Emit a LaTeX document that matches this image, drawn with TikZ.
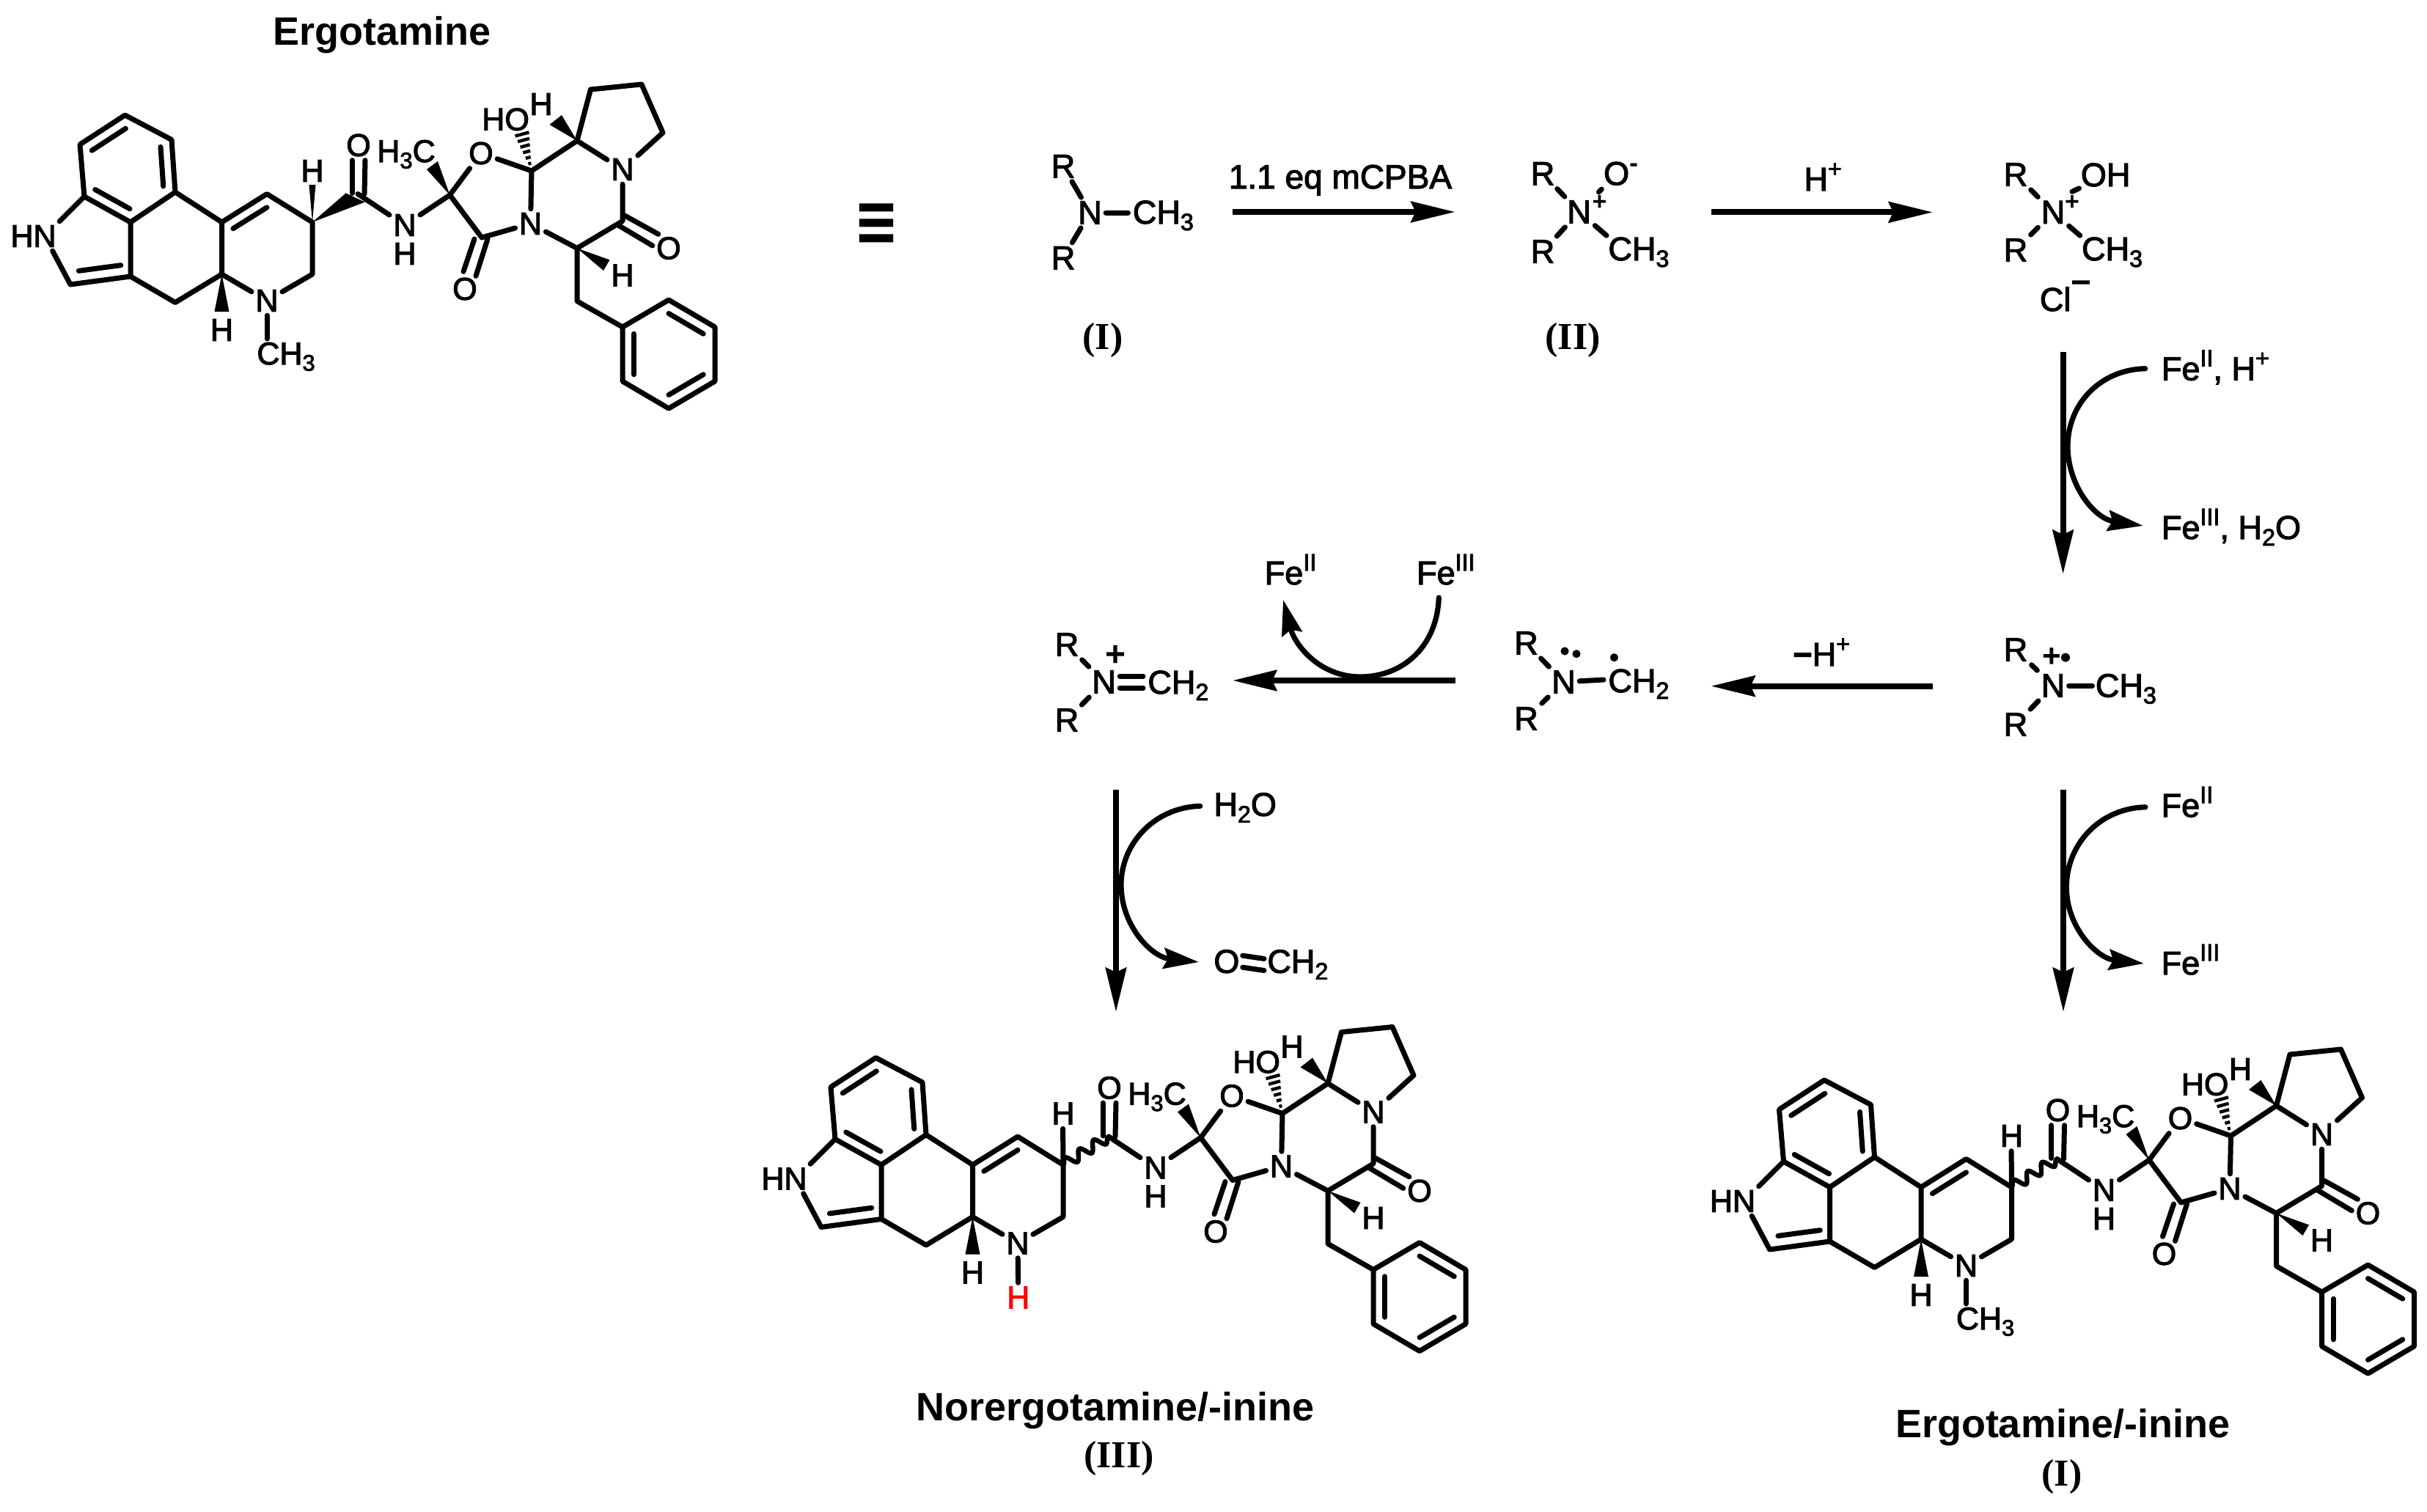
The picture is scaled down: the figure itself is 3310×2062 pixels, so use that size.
\documentclass[tikz,border=0pt]{standalone}
\usepackage{fontspec}
\usetikzlibrary{calc,arrows.meta,decorations.pathmorphing}
\setmainfont{Liberation Sans}
\newfontfamily\molf{Liberation Sans}[FakeBold=2.5]
\newfontfamily\timesf{Liberation Serif}
\newfontfamily\dejaf{DejaVu Sans}[BoldFont={DejaVu Sans Bold}]
\newcommand{\dn}[1]{\raisebox{-.2em}{\scalebox{.72}{#1}}}
\newcommand{\up}[1]{\raisebox{.42em}{\scalebox{.72}{#1}}}
\tikzset{
  x=.5pt,y=-.5pt,
  bond/.style={line width=3.5pt,line cap=round,line join=round},
  lab/.style={font=\fontsize{21.5}{25}\selectfont\molf,inner sep=2.5pt,text=black},
  labs/.style={font=\fontsize{22.5}{26}\selectfont\molf,inner sep=2.5pt,text=black},
  sign/.style={inner sep=0pt,text=black},
  capt/.style={font=\fontsize{27}{32}\selectfont\bfseries,inner sep=0pt,anchor=base},
  numb/.style={font=\fontsize{26}{30}\selectfont\timesf\bfseries,inner sep=0pt,anchor=base},
  rxn/.style={line width=4pt,-{Stealth[length=30pt,width=14pt,inset=3pt]}},
  curv/.style={line width=3.6pt,line cap=round,-{Stealth[length=24pt,width=14pt,inset=3pt]}},
}
% inner line of a ring double bond
\newcommand{\inb}[4]{\draw[bond] ($(#1)!#4!(#3)$) -- ($(#2)!#4!(#3)$);}
% molecule: name, dx, dy, C8 stereo bonds, N substituent
\newcommand{\ergot}[5]{%
\begin{scope}[shift={(#2,#3)},name prefix=#1-]
  \coordinate (a1) at (170.5,157);
  \coordinate (a2) at (109,197);
  \coordinate (a3) at (115,268);
  \coordinate (a4) at (178,303);
  \coordinate (a5) at (239,262);
  \coordinate (a6) at (234,190.5);
  \coordinate (a7) at (96,388);
  \coordinate (a8) at (178,377);
  \coordinate (a9) at (239,412.5);
  \coordinate (a10) at (302.5,374);
  \coordinate (a11) at (302.5,303);
  \coordinate (a12) at (364,264.5);
  \coordinate (a13) at (426,303);
  \coordinate (a14) at (426,374);
  \coordinate (a15) at (488,264.5);
  \coordinate (a16) at (613.5,266);
  \coordinate (a17) at (657,324);
  \coordinate (a18) at (725,233);
  \coordinate (a19) at (787,192);
  \coordinate (a20) at (849,301.5);
  \coordinate (a21) at (787,338.5);
  \coordinate (a22) at (787,410.7);
  \coordinate (p1) at (849,446);
  \coordinate (p2) at (912,409);
  \coordinate (p3) at (975,446);
  \coordinate (p4) at (975,520);
  \coordinate (p5) at (912,557);
  \coordinate (p6) at (849,520);
  \coordinate (q1) at (805.5,122);
  \coordinate (q2) at (875,115);
  \coordinate (q3) at (904,181);
  \coordinate (cA) at (174,230);
  \coordinate (cB) at (364,338);
  \coordinate (cC) at (134,326);
  \coordinate (cP) at (912,483);
  \node[lab] (hH) at (30,322) {H};
  \node[lab] (nI) at (61,322) {N};
  \node[lab] (nA) at (364,410) {N};
  \node[lab] (hA) at (302.5,450) {H};
  \node[lab] (hB) at (426,233) {H};
  \node[lab] (oA) at (489,198) {O};
  \node[lab] (nB) at (552,307) {N};
  \node[lab] (hC) at (552,346) {H};
  \node[lab,anchor=base west,inner sep=0pt] (me) at (514,221) {H\dn{3}C};
  \node[lab] (oR) at (656,209) {O};
  \node[lab,anchor=base west,inner sep=0pt] (oh) at (657,177.6) {HO};
  \node[lab] (hD) at (738,142) {H};
  \node[lab] (nC) at (723.5,305) {N};
  \node[lab] (nD) at (849,231) {N};
  \node[lab] (oB) at (634,394) {O};
  \node[lab] (oC) at (912,338.5) {O};
  \node[lab] (hE) at (849,375.5) {H};
  % tricycle
  \draw[bond] (a4) -- (a3) -- (a2) -- (a1) -- (a6) -- (a5) -- (a4) -- (a8) -- (a9) -- (a10) -- (a11) -- (a5);
  \draw[bond] (a8) -- (a7) -- (nI);
  \draw[bond] (nI) -- (a3);
  \inb{a1}{a2}{cA}{.25}
  \inb{a6}{a5}{cA}{.25}
  \inb{a3}{a4}{cA}{.25}
  \inb{a7}{a8}{cC}{.3}
  \draw[bond] (a11) -- (a12) -- (a13) -- (a14) -- (nA) -- (a10);
  \inb{a11}{a12}{cB}{.25}
  \fill (a10) -- (292.5,425) -- (312.5,425) -- cycle;
  #4
  #5
  % carbonyl, amide
  \draw[bond] ($(a15)+(-8,-1)$) -- ($(oA.south)+(-9,0)$);
  \draw[bond] ($(a15)+(9,0)$) -- ($(oA.south)+(9,0)$);
  \draw[bond] (a15) -- (nB) -- (a16);
  % oxazolidine
  \draw[bond] (a16) -- (oR) -- (a18);
  \draw[bond] (a16) -- (a17) -- (nC) -- (a18);
  \fill (a16) -- (582,231) -- (597,220) -- cycle;
  \foreach \t in {.2,.36,.52,.68,.84,1} \draw[line width=2.2pt] ($(a18)!\t!(702.5,185.6)$) -- ($(a18)!\t!(721.5,180.4)$);
  \draw[bond] ($(a17)+(-10,2)$) -- ($(oB.north)+(-2,-3)$);
  \draw[bond] ($(a17)+(8,2)$) -- ($(oB.north)+(15,3)$);
  % pyrrolidine and piperazine
  \draw[bond] (a18) -- (a19) -- (nD) -- (a20) -- (a21) -- (nC);
  \draw[bond] (a19) -- (q1) -- (q2) -- (q3) -- (nD);
  \fill (a19) -- (749.5,170) -- (766,157) -- cycle;
  \draw[bond] ($(a20)+(3,-7.5)$) -- ($(oC.north west)+(8,1.5)$);
  \draw[bond] ($(a20)+(-6,5.5)$) -- ($(oC.west)+(0,-3.5)$);
  \fill (a21) -- (831.5,354.4) -- (823,369) -- cycle;
  % benzyl
  \draw[bond] (a21) -- (a22) -- (p1);
  \draw[bond] (p1) -- (p2) -- (p3) -- (p4) -- (p5) -- (p6) -- cycle;
  \inb{p2}{p3}{cP}{.25}
  \inb{p1}{p6}{cP}{.25}
  \inb{p5}{p4}{cP}{.25}
\end{scope}}
\newcommand{\wedged}{%
  \fill (a13) -- (421.5,252) -- (430.5,252) -- cycle;
  \fill (a13) -- (471.7,263.4) -- (497.7,275.6) -- cycle;}
\newcommand{\wavy}{%
  \coordinate (hb) at (425.6,253.8);
  \draw[bond] (a13) -- (hb);
  \draw[line width=3.2pt,decorate,decoration={snake,segment length=11.5pt,amplitude=3.5pt}] (a13) -- (a15);}
\newcommand{\methyl}{%
  \node[lab,anchor=base west,inner sep=0pt] (ch) at (350,497) {CH\dn{3}};
  \coordinate (chb) at (364,462);
  \draw[bond] (nA) -- (chb);}
\newcommand{\hydro}{%
  \node[lab,text=red] (hr) at (364.8,484) {H};
  \draw[bond] (nA) -- (hr);}
\begin{document}
\begin{tikzpicture}
\useasboundingbox (0,0) rectangle (3310,2062);
% captions
\node[capt] (tTop) at (521,61) {Ergotamine};
\node[capt] (tL) at (1520.6,1937) {Norergotamine/-inine};
\node[numb] (nL) at (1526,2001.5) {(III)};
\node[capt] (tR) at (2813,1960) {Ergotamine/-inine};
\node[numb] (nR) at (2812,2026) {(I)};
\node[inner sep=0pt,font=\fontsize{37}{40}\selectfont\dejaf\bfseries] (eq) at (1195.5,306.5) {\scalebox{1}[1.3]{≡}};
% three molecules
\ergot{T}{0}{0}{\wedged}{\methyl}
\ergot{L}{1024}{1285.5}{\wavy}{\hydro}
\ergot{R}{2317.5}{1316}{\wavy}{\methyl}
% I
\node[labs] (r1a) at (1450,226.7) {R};
\node[labs] (n1) at (1486.5,290) {N};
\node[labs] (r1b) at (1450,351.7) {R};
\node[labs,anchor=base west,inner sep=0pt] (c1) at (1544.5,305) {CH\dn{3}};
\draw[bond] (r1a) -- (n1) -- (r1b);
\draw[bond] (n1) -- ($(c1.west |- n1)+(-6,0)$);
\node[numb] (lab1) at (1504,476.7) {(I)};
% reagent arrow 1
\coordinate (s1) at (1681,289);
\coordinate (e1) at (1984.6,289);
\draw[rxn] (s1) -- (e1);
\node[labs,anchor=base,inner sep=0pt,font=\fontsize{23}{26}\selectfont\molf] (mc) at (1828,257) {1.1 eq mCPBA};
% II
\node[labs] (r2a) at (2104,236.7) {R};
\node[labs] (n2) at (2153.6,289) {N};
\node[labs] (r2b) at (2104,343) {R};
\node[labs] (o2) at (2204.6,236.7) {O};
\node[sign,font=\fontsize{18}{20}\selectfont\bfseries] (o2m) at (2228,229) {-};
\node[sign,font=\fontsize{17}{20}\selectfont\bfseries] (n2p) at (2181.6,276.7) {+};
\node[labs,anchor=base west,inner sep=1pt] (c2) at (2191,355) {CH\dn{3}};
\coordinate (n2o) at (2180.4,262);
\draw[bond] (r2a) -- (n2) -- (r2b);
\draw[bond] (n2o) -- (o2);
\draw[bond] (n2) -- (c2.north west);
\node[numb] (lab2) at (2145,476.7) {(II)};
% acid arrow
\coordinate (s2) at (2333.5,289.4);
\coordinate (e2) at (2636,289.4);
\draw[rxn] (s2) -- (e2);
\node[labs,anchor=base west,inner sep=0pt] (hp) at (2460,260) {H\up{+}};
% III
\node[labs] (r3a) at (2749,238) {R};
\node[labs] (n3) at (2800,289.4) {N};
\node[labs] (r3b) at (2749,341) {R};
\node[labs,anchor=base west,inner sep=1pt] (o3) at (2835.5,254) {OH};
\node[sign,font=\fontsize{17}{20}\selectfont\bfseries] (n3p) at (2826,276.5) {+};
\node[labs,anchor=base west,inner sep=1pt] (c3) at (2836.7,355) {CH\dn{3}};
\coordinate (n3o) at (2826,261.4);
\draw[bond] (r3a) -- (n3) -- (r3b);
\draw[bond] (n3o) -- (o3.south west);
\draw[bond] (n3) -- (c3.north west);
\node[labs,anchor=base west,inner sep=0pt] (cl) at (2781.5,424) {Cl};
\node[sign,font=\fontsize{24}{26}\selectfont\bfseries] (clm) at (2838,392) {−};
% Fe step
\coordinate (s3) at (2813.6,480);
\coordinate (e3) at (2813.6,783);
\draw[rxn] (s3) -- (e3);
\node[labs,anchor=base west,inner sep=0pt] (f3a) at (2947.6,518.5) {Fe\up{II}, H\up{+}};
\node[labs,anchor=base west,inner sep=0pt] (f3b) at (2947.6,735) {Fe\up{III}, H\dn{2}O};
\coordinate (k3a) at (2925.7,502.7);
\coordinate (k3b) at (2820,609);
\coordinate (k3c) at (2922.7,717);
\draw[curv] (k3a) .. controls (2865,504) and (2820,550) .. (k3b) .. controls (2820,660) and (2855,707) .. (k3c);
% IV
\node[labs] (r4a) at (2749,886) {R};
\node[labs] (n4) at (2800,935) {N};
\node[labs] (r4b) at (2749,988) {R};
\node[labs,anchor=base west,inner sep=0pt] (c4) at (2857.5,950.5) {CH\dn{3}};
\node[sign,font=\fontsize{22}{24}\selectfont\bfseries] (n4p) at (2798,896.6) {+};
\fill (2817,896.6) circle (3pt);
\draw[bond] (r4a) -- (n4) -- (r4b);
\draw[bond] (n4) -- ($(c4.west |- n4)+(-4,0)$);
% deprotonation arrow
\coordinate (s4) at (2636,935.7);
\coordinate (e4) at (2333.4,935.7);
\draw[rxn] (s4) -- (e4);
\node[labs,anchor=base west,inner sep=0pt] (mh) at (2445,908) {\textbf{−}H\up{+}};
% V
\node[labs] (r5a) at (2081.5,877) {R};
\node[labs] (n5) at (2132.5,930) {N};
\node[labs] (r5b) at (2081.5,980) {R};
\node[labs,anchor=base west,inner sep=0pt] (c5) at (2193,944) {CH\dn{2}};
\fill (2134,888) circle (2.8pt);
\fill (2150,891.7) circle (2.8pt);
\fill (2201.4,896.7) circle (2.8pt);
\draw[bond] (r5a) -- (n5) -- (r5b);
\draw[bond] (n5) -- ($(c5.west |- n5)+(-6,-3)$);
% oxidation arrow
\coordinate (s5) at (1984.6,928);
\coordinate (e5) at (1681,928);
\draw[rxn] (s5) -- (e5);
\node[labs,anchor=base west,inner sep=0pt] (fa) at (1724.4,797) {Fe\up{II}};
\node[labs,anchor=base west,inner sep=0pt] (fb) at (1931.7,797) {Fe\up{III}};
\coordinate (k5a) at (1962.3,815);
\coordinate (k5b) at (1855,923);
\coordinate (k5c) at (1750,818);
\draw[curv] (k5a) .. controls (1960,880) and (1915,923) .. (k5b) .. controls (1800,923) and (1766,880) .. (k5c);
% VI iminium
\node[labs] (r6a) at (1455,879) {R};
\node[labs] (n6) at (1505.6,930) {N};
\node[labs] (r6b) at (1455,982) {R};
\node[labs,anchor=base west,inner sep=0pt] (c6) at (1565,946) {CH\dn{2}};
\node[sign,font=\fontsize{24}{26}\selectfont\bfseries] (n6p) at (1521.6,894) {+};
\draw[bond] (r6a) -- (n6) -- (r6b);
\draw[bond] ($(n6.east)+(0,-8)$) -- ($(c6.west |- n6)+(-6,-8)$);
\draw[bond] ($(n6.east)+(0,8)$) -- ($(c6.west |- n6)+(-6,8)$);
% hydrolysis
\coordinate (s6) at (1522,1077);
\coordinate (e6) at (1522,1380);
\draw[rxn] (s6) -- (e6);
\node[labs,anchor=base west,inner sep=0pt] (w) at (1655,1112.7) {H\dn{2}O};
\node[labs,anchor=base west,inner sep=0pt] (fo) at (1655,1326.7) {O};
\node[labs,anchor=base west,inner sep=0pt] (fc) at (1728,1326.7) {CH\dn{2}};
\draw[bond] ($(fo.east)+(4,-8)$) -- ($(fc.west)+(-4,-8)$);
\draw[bond] ($(fo.east)+(4,8)$) -- ($(fc.west)+(-4,8)$);
\coordinate (k6a) at (1636.7,1099.3);
\coordinate (k6b) at (1529,1206.7);
\coordinate (k6c) at (1635,1312);
\draw[curv] (k6a) .. controls (1575,1101) and (1529,1150) .. (k6b) .. controls (1529,1262) and (1570,1305) .. (k6c);
% reduction
\coordinate (s7) at (2814,1077);
\coordinate (e7) at (2814,1380);
\draw[rxn] (s7) -- (e7);
\node[labs,anchor=base west,inner sep=0pt] (f7a) at (2947.3,1114) {Fe\up{II}};
\node[labs,anchor=base west,inner sep=0pt] (f7b) at (2947.3,1329) {Fe\up{III}};
\coordinate (k7a) at (2926,1100.7);
\coordinate (k7b) at (2818.3,1210);
\coordinate (k7c) at (2924,1314);
\draw[curv] (k7a) .. controls (2865,1102) and (2818.3,1150) .. (k7b) .. controls (2818.3,1265) and (2860,1307) .. (k7c);
\end{tikzpicture}
\end{document}
